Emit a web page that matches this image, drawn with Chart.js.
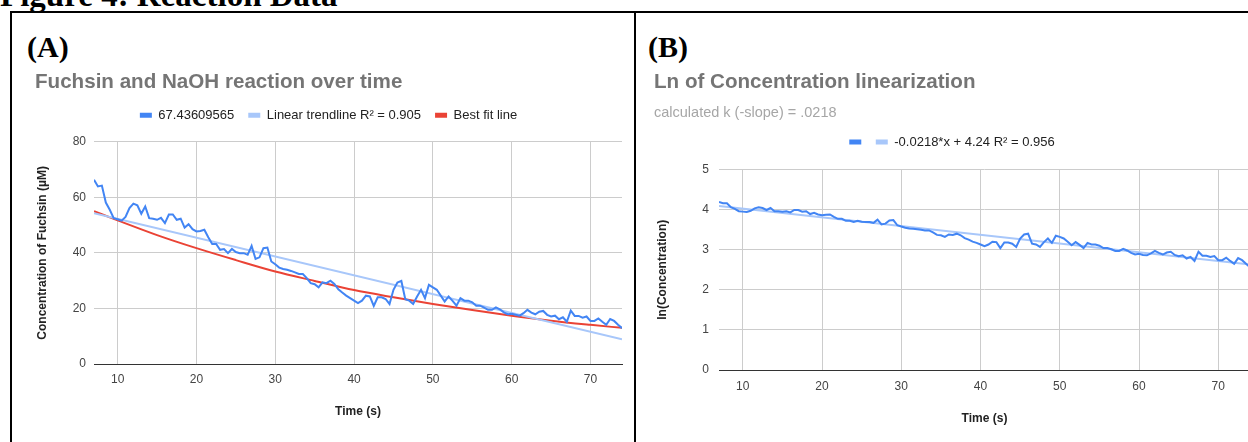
<!DOCTYPE html>
<html>
<head>
<meta charset="utf-8">
<script src="https://cdn.jsdelivr.net/npm/chart.js@4.4.0/dist/chart.umd.min.js"></script>
<style>
  body { margin:0; width:1248px; height:442px; overflow:hidden; position:relative; background:#fff; }
  .serif { position:absolute; font-family:'Liberation Serif','Times New Roman',serif; font-weight:bold; color:#000; white-space:nowrap; }
  .rule { position:absolute; background:#000; }
  .box { position:absolute; }
</style>
</head>
<body>
<div class="serif" style="left:0;top:-21px;font-size:33px;line-height:33px">Figure 4: Reaction Data</div>
<div class="rule" style="left:10px;top:11px;width:1240px;height:2px"></div>
<div class="rule" style="left:10px;top:11px;width:2px;height:440px"></div>
<div class="rule" style="left:634px;top:11px;width:2px;height:440px"></div>
<div class="serif" style="left:27px;top:32px;font-size:30px;line-height:30px">(A)</div>
<div class="serif" style="left:648px;top:32px;font-size:30px;line-height:30px">(B)</div>
<div class="box" style="left:12px;top:62px;width:622px;height:380px"><canvas id="chartA"></canvas></div>
<div class="box" style="left:636px;top:62px;width:626px;height:380px"><canvas id="chartB"></canvas></div>

<script>
// sample times (s)
const times = [
  7, 7.5, 8, 8.5, 9, 9.5, 10, 10.5, 11, 11.5,
  12, 12.5, 13, 13.5, 14, 14.5, 15, 15.5, 16, 16.5,
  17, 17.5, 18, 18.5, 19, 19.5, 20, 20.5, 21, 21.5,
  22, 22.5, 23, 23.5, 24, 24.5, 25, 25.5, 26, 26.5,
  27, 27.5, 28, 28.5, 29, 29.5, 30, 30.5, 31, 31.5,
  32, 32.5, 33, 33.5, 34, 34.5, 35, 35.5, 36, 36.5,
  37, 37.5, 38, 38.5, 39, 39.5, 40, 40.5, 41, 41.5,
  42, 42.5, 43, 43.5, 44, 44.5, 45, 45.5, 46, 46.5,
  47, 47.5, 48, 48.5, 49, 49.5, 50, 50.5, 51, 51.5,
  52, 52.5, 53, 53.5, 54, 54.5, 55, 55.5, 56, 56.5,
  57, 57.5, 58, 58.5, 59, 59.5, 60, 60.5, 61, 61.5,
  62, 62.5, 63, 63.5, 64, 64.5, 65, 65.5, 66, 66.5,
  67, 67.5, 68, 68.5, 69, 69.5, 70, 70.5, 71, 71.5,
  72, 72.5, 73, 73.5, 74
];

// fuchsin concentration (uM)
const concA = [
  66.3, 63.9, 64.2, 58.1, 55.5, 52.5, 52.1, 51.6, 52.9, 56.1,
  57.7, 57.1, 54.1, 56.7, 52.5, 52.3, 51.9, 52.6, 50.7, 53.8,
  53.8, 51.9, 52.3, 49.1, 50.3, 48.5, 47.7, 47.9, 48.3, 45.6,
  43.2, 43.2, 41.1, 41.4, 39.9, 41.4, 40.3, 39.9, 39.9, 39.3,
  42.5, 37.8, 38.4, 41.7, 41.9, 36.9, 35.9, 34.7, 34.2, 33.9,
  33.5, 33.0, 32.4, 32.4, 30.9, 29.1, 28.7, 27.6, 29.4, 29.1,
  30.0, 28.8, 26.9, 25.7, 24.6, 23.7, 22.8, 21.9, 22.8, 24.6,
  24.3, 20.9, 24.0, 24.0, 23.4, 21.6, 26.7, 29.3, 29.9, 23.3,
  22.8, 21.6, 24.3, 26.7, 23.7, 28.5, 27.6, 26.7, 24.6, 22.5,
  24.3, 22.7, 21.0, 23.7, 22.8, 22.8, 22.2, 21.0, 21.0, 20.3,
  19.5, 19.5, 20.4, 19.7, 18.6, 17.9, 18.1, 17.7, 17.4, 18.3,
  19.5, 18.5, 17.9, 18.8, 19.1, 17.7, 17.1, 17.4, 16.1, 16.8,
  15.2, 19.2, 17.3, 17.3, 16.7, 17.1, 15.5, 15.5, 16.4, 15.2,
  14.1, 16.2, 15.5, 14.1, 12.9
];

// ln(concentration)
const lnConc = [
  4.19, 4.16, 4.16, 4.06, 4.02, 3.96, 3.95, 3.94, 3.97, 4.03,
  4.06, 4.04, 3.99, 4.04, 3.96, 3.96, 3.95, 3.96, 3.93, 3.99,
  3.99, 3.95, 3.96, 3.89, 3.92, 3.88, 3.86, 3.87, 3.88, 3.82,
  3.77, 3.77, 3.72, 3.72, 3.69, 3.72, 3.70, 3.69, 3.69, 3.67,
  3.75, 3.63, 3.65, 3.73, 3.74, 3.61, 3.58, 3.55, 3.53, 3.52,
  3.51, 3.50, 3.48, 3.48, 3.43, 3.37, 3.36, 3.32, 3.38, 3.37,
  3.40, 3.36, 3.29, 3.25, 3.20, 3.17, 3.13, 3.09, 3.13, 3.20,
  3.19, 3.04, 3.18, 3.18, 3.15, 3.07, 3.28, 3.38, 3.40, 3.15,
  3.13, 3.07, 3.19, 3.28, 3.17, 3.35, 3.32, 3.28, 3.20, 3.11,
  3.19, 3.12, 3.04, 3.17, 3.13, 3.13, 3.10, 3.04, 3.04, 3.01,
  2.97, 2.97, 3.02, 2.98, 2.92, 2.88, 2.90, 2.87, 2.86, 2.91,
  2.97, 2.92, 2.88, 2.93, 2.95, 2.87, 2.84, 2.86, 2.78, 2.82,
  2.72, 2.95, 2.85, 2.85, 2.82, 2.84, 2.74, 2.74, 2.80, 2.72,
  2.65, 2.79, 2.74, 2.65, 2.56
];

// trendline end points
const trendTimes = [7, 74];
const trendA = [54.3, 8.9];
const trendB = [4.09, 2.63];

// best fit curve, read at a few times
const fitTimes = [7, 10, 15, 20, 25, 30, 35, 40, 45, 50, 55, 60, 65, 70, 74];
const fitA = [55.0, 51.7, 46.4, 41.7, 37.4, 33.3, 29.9, 26.6, 24.0, 21.6, 19.4, 17.4, 15.6, 14.1, 13.0];

const legendA = ['67.43609565', 'Linear trendline R\u00b2 = 0.905', 'Best fit line'];
const legendB = ['', '-0.0218*x + 4.24 R\u00b2 = 0.956'];
const xTicks = [10, 20, 30, 40, 50, 60, 70];

const BLUE = '#4285f4', LIGHT = '#a8c7fa', RED = '#ea4335';
const FONT = "'Liberation Sans', Arial, sans-serif";

Chart.defaults.font.family = FONT;
Chart.defaults.font.size = 12;
Chart.defaults.color = '#444';

const pts = (xs, ys) => xs.map((x, i) => ({ x, y: ys[i] }));

const line = (label, xs, ys, color, extra) => Object.assign({
  label, data: pts(xs, ys), borderColor: color, backgroundColor: color,
  borderWidth: 2, pointRadius: 0, tension: 0
}, extra || {});

// extra space under the legend
const legendGap = px => ({
  id: 'legendGap',
  beforeInit(chart) {
    const fit = chart.legend.fit;
    chart.legend.fit = function () { fit.call(this); this.height += px; };
  }
});

const flatLabels = chart =>
  Chart.defaults.plugins.legend.labels.generateLabels(chart).map(l => ({ ...l, lineWidth: 0 }));

function axes(o) {
  return {
    x: {
      type: 'linear', min: 7, max: 74,
      afterBuildTicks: s => { s.ticks = xTicks.map(v => ({ value: v })); },
      afterFit: s => { s.height = o.xHeight; },
      ticks: { padding: o.xPad, color: '#444' },
      grid: { color: '#cccccc', drawTicks: false },
      border: { display: true, color: '#333' },
      title: { display: true, text: 'Time (s)', color: '#222', font: { weight: 'bold', size: 12 },
               padding: { top: 0, bottom: o.xTitlePad } }
    },
    y: {
      min: 0, max: o.yMax,
      afterFit: s => { s.width = o.yWidth; },
      ticks: { stepSize: o.yStep, padding: o.yPad, color: '#444' },
      grid: { color: c => c.tick && c.tick.value === 0 ? '#333' : '#cccccc', drawTicks: false },
      border: { display: false },
      title: { display: true, text: o.yTitle, color: '#222', font: { weight: 'bold', size: 12 },
               padding: { top: o.yTitlePad, bottom: 0 } }
    }
  };
}

const titleFont = { size: 20.6, weight: 'bold' };
const legendLabels = pad => ({ boxWidth: 12, boxHeight: 5, padding: pad, color: '#222',
                               font: { size: 13 }, generateLabels: flatLabels });

new Chart(document.getElementById('chartA'), {
  type: 'line',
  data: {
    datasets: [
      line(legendA[0], times, concA, BLUE),
      line(legendA[1], trendTimes, trendA, LIGHT),
      line(legendA[2], fitTimes, fitA, RED, { cubicInterpolationMode: 'monotone' })
    ]
  },
  options: {
    responsive: true, maintainAspectRatio: false, animation: false,
    layout: { padding: { left: 23, right: 12, top: 0, bottom: 0 } },
    plugins: {
      title: { display: true, text: 'Fuchsin and NaOH reaction over time', align: 'start', color: '#757575',
               font: titleFont, padding: { top: 8, bottom: 0 } },
      legend: { position: 'top', labels: legendLabels(14) },
      tooltip: { enabled: false }
    },
    scales: axes({ xHeight: 78, xPad: 8, xTitlePad: 23, yMax: 80, yStep: 20, yWidth: 59, yPad: 8,
                   yTitle: 'Concentration of Fuchsin (\u00b5M)', yTitlePad: 0 })
  },
  plugins: [legendGap(10)]
});

new Chart(document.getElementById('chartB'), {
  type: 'line',
  data: {
    datasets: [
      line(legendB[0], times, lnConc, BLUE),
      line(legendB[1], trendTimes, trendB, LIGHT)
    ]
  },
  options: {
    responsive: true, maintainAspectRatio: false, animation: false,
    layout: { padding: { left: 18, right: 12, top: 0, bottom: 0 } },
    plugins: {
      title: { display: true, text: 'Ln of Concentration linearization', align: 'start', color: '#757575',
               font: titleFont, padding: { top: 8, bottom: 0 } },
      subtitle: { display: true, text: 'calculated k (-slope) = .0218', align: 'start', color: '#a6a6a6',
                  font: { size: 14.5 }, padding: { top: 9.6, bottom: 5.8 } },
      legend: { position: 'top', labels: legendLabels(8) },
      tooltip: { enabled: false }
    },
    scales: axes({ xHeight: 72, xPad: 9, xTitlePad: 16, yMax: 5, yStep: 1, yWidth: 65, yPad: 10,
                   yTitle: 'ln(Concentration)', yTitlePad: 1 })
  },
  plugins: [legendGap(11)]
});
</script>
</body>
</html>
